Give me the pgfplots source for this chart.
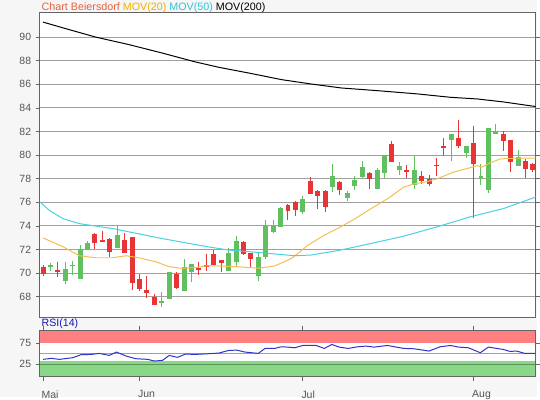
\documentclass[border=0pt]{standalone}
\usepackage{pgfplots}
\pgfplotsset{compat=1.18}
\usepackage{pgfplotstable}
\usepackage{fontspec}
\setmainfont{Liberation Sans}
\definecolor{bg}{RGB}{246,246,246}
\definecolor{framec}{RGB}{100,100,100}
\definecolor{gridc}{RGB}{160,160,160}
\definecolor{tickc}{RGB}{85,85,85}
\definecolor{upc}{RGB}{96,192,96}
\definecolor{dnc}{RGB}{232,52,52}
\definecolor{ma20}{RGB}{245,190,80}
\definecolor{ma50}{RGB}{70,210,225}
\definecolor{titlec}{RGB}{232,96,60}
\definecolor{ma20t}{RGB}{240,176,0}
\definecolor{ma50t}{RGB}{40,200,220}
\definecolor{rsic}{RGB}{50,50,200}
\definecolor{rsit}{RGB}{20,20,180}
\definecolor{redband}{RGB}{255,128,128}
\definecolor{greenband}{RGB}{136,216,136}
\definecolor{greenline}{RGB}{90,150,90}

\pgfplotstableread{
x o h l c
1 70.52 70.83 70.21 70.69
3 69.34 70.97 69.12 70.33
4 70.64 71.06 69.85 70.69
5 69.51 72.38 69.51 72.04
6 72.04 72.77 71.93 72.60
10 72.10 74.00 72.10 73.27
16 67.58 68.39 67.10 67.63
17 67.83 70.07 67.83 70.07
19 68.50 71.17 68.50 70.52
20 70.13 70.80 69.29 70.80
25 70.19 72.10 70.19 71.74
26 70.92 73.11 70.64 72.77
29 69.80 71.74 69.35 71.34
30 71.34 74.49 71.20 74.01
31 73.45 74.54 73.39 74.01
32 73.95 75.61 73.95 75.55
35 75.16 76.53 75.02 76.31
39 77.29 79.23 76.87 78.22
41 76.37 76.99 76.09 76.82
42 77.43 78.22 77.01 77.91
43 78.19 79.51 78.08 78.98
45 77.15 78.89 77.10 78.75
46 78.53 80.04 78.08 80.04
48 78.78 79.43 78.28 79.09
50 77.43 80.04 77.10 78.75
55 81.31 81.78 79.48 81.78
57 80.18 80.77 79.76 80.77
59 78.05 79.23 77.43 78.22
60 77.01 82.26 76.79 82.26
61 81.76 82.63 81.76 82.01
64 79.12 80.44 79.12 79.82
}\up

\pgfplotstableread{
x o h l c
0 70.50 70.69 69.79 69.93
2 70.30 70.92 69.71 70.07
7 73.30 73.39 72.04 72.57
8 72.82 73.55 72.68 72.68
9 72.94 73.02 71.34 71.76
11 72.85 73.39 71.70 71.70
12 73.10 73.10 68.59 69.18
13 69.54 69.91 68.53 68.64
14 68.59 69.74 67.86 68.33
15 68.00 68.28 67.32 67.32
18 69.93 70.13 68.67 68.78
21 70.44 70.94 69.85 70.27
22 70.67 71.60 70.19 70.56
23 71.60 71.93 70.70 70.70
24 71.09 71.09 70.08 70.84
27 72.61 72.77 71.54 71.62
28 71.68 71.68 70.56 71.20
33 75.80 75.86 74.51 75.24
34 76.00 76.08 74.85 75.36
36 77.82 78.13 76.67 76.67
37 76.98 77.09 75.47 76.53
38 76.98 77.04 75.19 75.61
40 77.74 77.85 76.59 77.09
44 78.50 78.61 77.15 78.00
47 80.94 81.19 79.40 79.40
49 78.78 79.17 78.08 78.56
51 78.22 78.67 77.55 77.77
52 78.00 78.33 77.38 77.55
53 79.17 79.74 78.22 79.09
54 80.77 81.44 79.90 80.66
56 81.45 82.96 80.58 80.77
58 81.03 82.43 74.71 79.23
62 81.78 82.01 80.38 81.22
63 81.25 81.25 78.61 79.40
65 79.51 79.68 78.08 78.84
66 79.23 79.31 78.56 78.78
}\down

\pgfplotstableread{
x v
0 91.27
3.6 90.62
7.1 90.00
11.6 89.36
16 88.66
20.5 87.90
23.7 87.44
28.1 86.91
32.1 86.40
36.1 86.03
40.2 85.69
45.1 85.46
50.4 85.19
54.9 84.90
58.5 84.76
62.0 84.51
66.36 84.12
}\maTwoHundred

\pgfplotstableread{
x v
-0.44 76.05
0.9 75.30
2.7 74.62
4.9 74.20
9.4 73.78
16 72.94
22.3 72.23
25 71.96
29 71.76
33.9 71.48
36.1 71.54
39.7 71.91
44.2 72.52
48.6 73.14
53.1 73.93
57.5 74.77
62 75.47
66.36 76.45
}\maFifty

\pgfplotstableread{
x v
0 72.99
2.7 72.24
4.9 71.48
7.1 71.31
9.4 71.31
11.2 71.48
12.9 71.31
15.2 70.97
17 70.55
18.7 70.41
20.5 70.47
22.3 70.64
25.9 70.56
29 70.42
31.2 70.61
33.5 71.26
35.7 72.38
37.9 73.22
39.7 73.80
42 74.60
44 75.40
46.4 76.31
48.6 77.29
50 77.57
51.8 77.77
53.1 78.00
55.3 78.56
57.6 78.95
58.5 79.12
59.1 78.98
60.2 79.34
61.6 79.68
63.4 79.74
66.36 79.76
}\maTwenty

\pgfplotstableread{
x v
0 36.1
1.1 38.5
2.2 36.1
4.0 40.1
5.1 47.2
6.5 48.0
7.6 50.4
8.9 45.6
9.9 53.6
11.2 44.0
12.5 37.7
14.1 36.1
15.0 32.1
16.1 33.7
17.0 45.6
18.1 40.9
19.2 48.8
20.5 48.0
22.3 49.6
23.7 51.2
25.0 57.5
26.1 58.3
27.2 53.6
29.0 50.4
29.9 62.3
31.2 62.3
32.1 66.3
33.0 65.5
33.9 63.9
35.0 69.4
36.8 69.4
37.9 62.3
38.9 71.8
39.9 65.5
41.1 62.3
42.4 66.3
43.5 67.9
44.6 65.5
46.4 69.4
48.6 62.3
50.0 61.5
52.0 56.0
53.5 66.3
54.9 69.4
56.0 65.5
57.3 63.9
58.9 52.0
60.0 65.5
62.0 59.9
62.9 55.2
63.8 56.0
64.9 50.4
66.3 50.4
}\rsi

\begin{document}
\begin{tikzpicture}
\fill[bg] (0,0) rectangle (405pt,300pt);
\pgfplotsset{
  commonax/.style={
    scale only axis, anchor=south west,
    xmin=-0.44, xmax=66.36,
    axis line style={framec, line width=0.75pt},
    axis background/.style={fill=white},
    tick align=outside, major tick length=3pt,
    tick style={framec, line width=0.6pt},
    /pgf/number format/assume math mode=true,
    ticklabel style={font=\fontsize{7.9}{9}\selectfont, text=tickc},
  },
  wick/.style={draw=none, mark=none, forget plot,
    error bars/.cd, y dir=both, y explicit, error mark=none,
    error bar style={line width=0.75pt, draw=#1}},
  body/.style={draw=none, mark=none, forget plot,
    error bars/.cd, y dir=both, y explicit, error mark=none,
    error bar style={line width=3.75pt, draw=#1}},
}
\begin{axis}[commonax,
  at={(30pt,60.525pt)}, width=374.25pt, height=230.25pt,
  ymin=66.266, ymax=92.108,
  xtick=\empty,
  ytick={68,70,...,90},
  ymajorgrids, grid style={gridc, line width=0.75pt},
]
\addplot[wick=upc] table[x=x, y expr={(\thisrow{h}+\thisrow{l})/2}, y error expr={(\thisrow{h}-\thisrow{l})/2}] {\up};
\addplot[body=upc] table[x=x, y expr={(\thisrow{o}+\thisrow{c})/2}, y error expr={max(abs(\thisrow{c}-\thisrow{o})/2,0.035)}] {\up};
\addplot[wick=dnc] table[x=x, y expr={(\thisrow{h}+\thisrow{l})/2}, y error expr={(\thisrow{h}-\thisrow{l})/2}] {\down};
\addplot[body=dnc] table[x=x, y expr={(\thisrow{o}+\thisrow{c})/2}, y error expr={max(abs(\thisrow{c}-\thisrow{o})/2,0.035)}] {\down};
\addplot[ma20, line width=0.75pt] table[x=x, y=v] {\maTwenty};
\addplot[ma50, line width=0.75pt] table[x=x, y=v] {\maFifty};
\addplot[black, line width=0.75pt] table[x=x, y=v] {\maTwoHundred};
\end{axis}

\begin{axis}[commonax,
  at={(30pt,15.525pt)}, width=374.25pt, height=35.25pt,
  ymin=-6, ymax=106,
  xtick={0,13,35,58}, xticklabels={Mai,Jun,Jul,Aug},
  xticklabel style={anchor=north west, inner sep=0pt, xshift=-1.2pt, yshift=-7pt},
  ytick={25,75},
  axis on top,
]
\addplot[fill=redband, draw=none] coordinates {(-1,75) (67,75) (67,106) (-1,106)} -- cycle;
\addplot[fill=greenband, draw=none] coordinates {(-1,-6) (67,-6) (67,32.5) (-1,32.5)} -- cycle;
\addplot[gridc, line width=0.6pt] coordinates {(-1,50) (67,50)};
\addplot[greenline, line width=0.6pt] coordinates {(-1,25) (67,25)};
\addplot[rsic, line width=0.75pt] table[x=x, y=v] {\rsi};
\end{axis}

\node[anchor=base west, inner sep=0pt, font=\fontsize{8.1}{9}\selectfont] at (31.3pt,292pt)
  {\textcolor{titlec}{Chart Beiersdorf} \textcolor{ma20t}{MOV(20)} \textcolor{ma50t}{MOV(50)} \textcolor{black}{MOV(200)}};
\node[anchor=base west, inner sep=0pt, font=\fontsize{8}{9}\selectfont, text=rsit] at (31.3pt,53.3pt) {RSI(14)};
\end{tikzpicture}
\end{document}
